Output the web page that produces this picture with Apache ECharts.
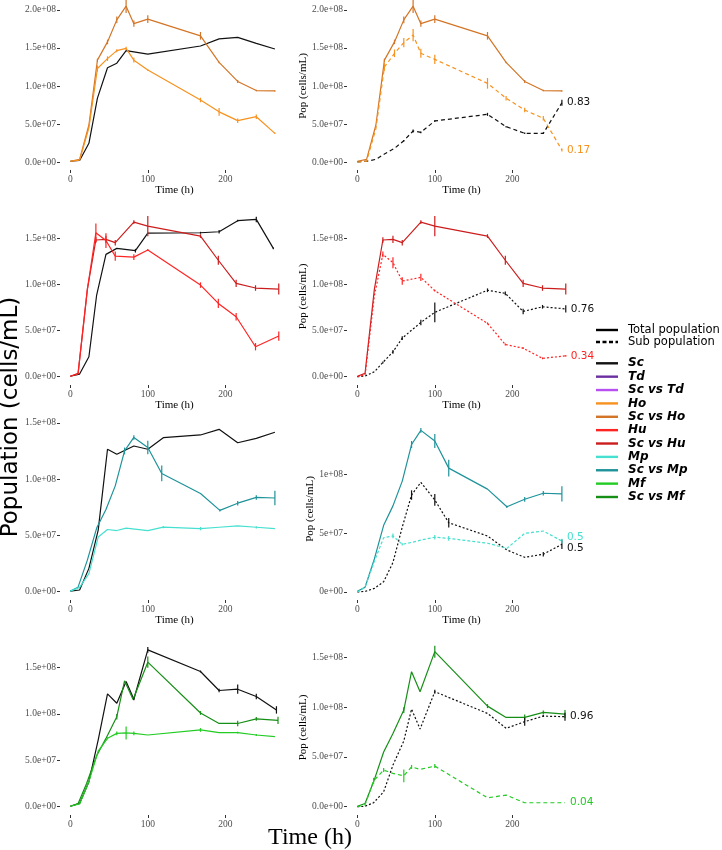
<!DOCTYPE html>
<html><head><meta charset="utf-8">
<script src="https://cdn.jsdelivr.net/npm/echarts@6/dist/echarts.min.js"></script>
<style>html,body{margin:0;padding:0;background:#fff}#c{width:722px;height:850px}</style>
</head><body><div id="c"></div><script>
// ===== DATA (population in units of 1e6 cells/mL, time in h) =====
const timeTicks = [0, 100, 200];
const popTicks = [0, 50, 100, 150, 200];
const popTickLabels = ['0.0e+00', '5.0e+07', '1.0e+08', '1.5e+08', '2.0e+08'];
const popTickLabelsShort = ['0e+00', '5e+07', '1e+08', '1.5e+08', '2e+08'];

const legendLineNames = ['Total population', 'Sub population'];
const legendNames = ['Sc', 'Td', 'Sc vs Td', 'Ho', 'Sc vs Ho', 'Hu', 'Sc vs Hu', 'Mp', 'Sc vs Mp', 'Mf', 'Sc vs Mf'];

// Row 1 : Ho
const tHo = [0, 12, 24, 35, 48, 60, 72, 82, 100, 168, 192, 216, 240, 264];
const sc1 = [1, 2, 24.6, 84, 124, 130, 146.5, 145, 142, 152.6, 162, 164, 156, 148.7];
const sc1Err = [0, 0, 0, 0, 0, 0, 0, 0, 0, 0, 0, 0, 0, 0];
const scHoTot = [1, 3.5, 48.7, 134, 158, 187, 205, 182, 188, 166, 131, 106, 94, 93.5];
const scHoTotErr = [0, 0, 0, 2, 3, 4.5, 9, 4, 5, 5, 1, 2, 1, 1];
const hoMono = [1, 2.5, 45, 123, 136, 146.5, 149.5, 134, 121, 81.6, 66, 54.4, 59.6, 37.7];
const hoMonoErr = [0, 0, 0, 4, 3, 2, 2, 3, 1, 3, 5, 3, 3, 1];
const hoSub = [0, 1, 44, 125, 143, 157, 167, 143, 135, 103.5, 84, 68.4, 57.5, 15.8];
const hoSubErr = [0, 0, 0, 5, 5, 6, 8, 6, 6, 7, 3, 3, 3, 2];
const scSubHo = [0, 1, 3.5, 10.5, 18, 28, 40.8, 39, 54, 62.7, 46.5, 37.7, 37.7, 78];
const scSubHoErr = [0, 0, 0, 0, 0, 1, 2, 1, 1, 2, 1, 1, 1, 4];
const fracHo = ['0.83', '0.17'];

// Row 2 : Hu
const tSc2 = [0, 12, 24, 34, 46, 60, 84, 100, 168, 192, 216, 240, 262];
const sc2 = [0.5, 2.9, 21.7, 88.8, 133, 139.5, 137, 156, 156.5, 157.6, 169.6, 171, 139.5];
const sc2Err = [0, 0, 0, 0, 0, 0, 2, 0, 1, 2, 1, 3, 1];
const tHu = [0, 10, 22, 33, 46, 58, 82, 100, 168, 191, 214, 239, 269];
const scHuTot = [0.5, 3.6, 95, 148.6, 149.3, 145.7, 168, 163.7, 152.9, 126.6, 101.4, 96.4, 95.3];
const scHuTotErr = [0, 0, 0, 3, 4, 3, 2, 11, 2, 5, 4, 3, 6];
const huMono = [0.5, 3, 95, 156.5, 148, 131, 130, 137.7, 99.6, 79.7, 65.2, 32.6, 44.2];
const huMonoErr = [0, 0, 0, 10, 8, 5, 3, 1, 3, 5, 4, 4, 5];
const huSub = [0, 2, 88, 133, 124, 104, 108, 93.5, 58, 35, 31, 20, 22.7];
const huSubErr = [0, 0, 0, 3, 6, 4, 4, 1, 1, 1, 1, 1, 1];
const scSubHu = [0, 0.7, 5.4, 15.5, 27, 42, 59, 70, 94, 90.6, 71, 76, 73.7];
const scSubHuErr = [0, 0, 0, 1, 2, 2, 3, 10.8, 2, 2, 3, 2, 4];
const fracHu = ['0.76', '0.34'];

// Row 3 : Mp
const tSc3 = [0, 12, 24, 36, 48, 60, 82, 100, 120, 168, 192, 216, 240, 264];
const sc3 = [0.5, 1.5, 20.7, 54.7, 126.5, 122, 129.4, 126.5, 136.8, 139.2, 144.2, 132.3, 136.2, 141.6];
const sc3Err = [0, 0, 0, 0, 0, 0, 0, 0, 0, 0, 0, 0, 0, 0];
const tMp = [0, 10, 22, 34, 46, 58, 70, 82, 100, 118, 168, 193, 216, 240, 264];
const scMpTot = [0.5, 4, 28, 56.5, 73, 94, 125, 137, 128, 105, 87.2, 72.2, 78.6, 83.7, 83.2];
const scMpTotErr = [0, 0, 0, 0, 0, 0, 3, 2, 6, 7, 0, 1, 2, 2, 6.5];
const tMpMono = [0, 12, 24, 36, 48, 60, 72, 100, 120, 168, 192, 216, 240, 264];
const mpMono = [0.5, 3.8, 16, 48.5, 55.2, 54.3, 56.4, 54.3, 57.3, 56, 57.2, 58.4, 57.2, 56];
const mpMonoErr = [0, 0, 0, 0, 0, 0, 0, 0, 1, 1.5, 0, 0, 1, 0];
const mpSub = [0, 4, 26, 46, 47.5, 40.4, 42, 44, 46.4, 45.5, 41.3, 37, 49.7, 51.7, 43.2];
const mpSubErr = [0, 0, 0, 0, 2, 1, 0, 0, 2, 2, 0, 0, 0, 0, 2];
const scSubMp = [0, 0.5, 3, 8.7, 25, 55, 82.2, 93, 78, 58.7, 47.5, 35.6, 29.4, 32, 40.4];
const scSubMpErr = [0, 0, 0, 0, 0, 0, 4, 0, 5, 4, 0, 0, 0, 2, 4];
const fracMp = ['0.5', '0.5'];

// Row 4 : Mf
const tSc4 = [0, 12, 24, 36, 48, 60, 72, 82, 100, 168, 192, 216, 240, 266];
const sc4 = [0.5, 3.6, 27, 72, 121.6, 111.5, 135, 115.8, 169, 145.7, 125.2, 126.6, 118.7, 104.3];
const sc4Err = [0, 0, 0, 0, 0, 0, 0, 1, 3, 1, 2, 5, 3, 4];
const tMf = [0, 10, 21, 34, 46, 60, 70, 81, 100, 168, 192, 216, 240, 268];
const scMfTot = [0.5, 3.3, 25, 55, 73.6, 97, 135.6, 115.5, 155.7, 101, 89.7, 89.7, 94.7, 93];
const scMfTotErr = [0, 0, 0, 0, 0, 3, 0, 0, 6, 2, 0, 3, 2, 4];
const tMfMono = [0, 12, 24, 36, 48, 60, 72, 82, 100, 168, 192, 216, 240, 264];
const mfMono = [0.5, 3, 27, 60, 73.7, 79, 79.5, 79, 77.3, 82.7, 79.8, 79.8, 77.3, 75.5];
const mfMonoErr = [0, 0, 0, 0, 1, 2, 7, 2, 0, 2, 0, 1, 1, 0];
const mfSub = [0, 2, 26, 36.8, 33.5, 31, 40, 37.5, 40.8, 9, 11.7, 4, 4, 4];
const mfSubErr = [0, 0, 3, 2, 0, 6.5, 2, 0, 2, 0, 0, 0, 0, 0];
const scSubMf = [0, 0.5, 4, 15, 41.8, 66, 98, 78, 115.5, 93.7, 78.7, 85.4, 91, 90.4];
const scSubMfErr = [0, 0, 0, 0, 0, 0, 0, 0, 2, 0, 0, 4, 1, 4];
const fracMf = ['0.96', '0.04'];

// ===== STYLE =====
const C = {
  Sc: '#111111', Td: '#6B2FA0', ScTd: '#B84FF0', Ho: '#F7921E', ScHo: '#D37526',
  Hu: '#FF2424', ScHu: '#CC1D1D', Mp: '#45E0D0', ScMp: '#1E939A', Mf: '#22CC22', ScMf: '#168F16'
};
const legendColors = [C.Sc, C.Td, C.ScTd, C.Ho, C.ScHo, C.Hu, C.ScHu, C.Mp, C.ScMp, C.Mf, C.ScMf];
const SERIF = 'Liberation Serif';
const SANS = 'DejaVu Sans';

const panels = [
  { left: 60, top: 2, h: 168, ymin: -10.5, ymax: 210.5, xname: true, yname: false },
  { left: 347, top: 2, h: 168, ymin: -10.5, ymax: 210.5, xname: true, yname: true },
  { left: 60, top: 208, h: 177, ymin: -9.0, ymax: 183.4, xname: true, yname: false },
  { left: 347, top: 208, h: 177, ymin: -9.0, ymax: 183.4, xname: true, yname: true },
  { left: 60, top: 421, h: 179, ymin: -7.4, ymax: 151.6, xname: true, yname: false },
  { left: 347, top: 418, h: 182, ymin: -6.8, ymax: 147.5, xname: true, yname: true, short: true },
  { left: 60, top: 640, h: 175, ymin: -8.9, ymax: 179.6, xname: false, yname: false },
  { left: 347, top: 640, h: 175, ymin: -8.3, ymax: 167.4, xname: false, yname: true }
];
const XMIN = -13.3, XMAX = 282.2, PW = 229;

const grids = [], xAxes = [], yAxes = [], series = [];
panels.forEach((p, i) => {
  grids.push({ left: p.left, top: p.top, width: PW, height: p.h, containLabel: false, outerBoundsMode: 'none' });
  xAxes.push({
    type: 'value', gridIndex: i, min: XMIN, max: XMAX,
    axisLine: { show: false, onZero: false }, splitLine: { show: false },
    axisTick: { show: true, customValues: timeTicks, length: 3, lineStyle: { color: '#333', width: 1 } },
    axisLabel: { customValues: timeTicks, margin: 4, color: '#4D4D4D', fontFamily: SERIF, fontSize: 9.5 },
    name: p.xname ? 'Time (h)' : '', nameLocation: 'middle', nameGap: 14,
    nameTextStyle: { fontFamily: SERIF, fontSize: 11, color: '#000' }
  });
  const yt = popTicks.filter(v => v >= p.ymin && v <= p.ymax);
  const labs = p.short ? popTickLabelsShort : popTickLabels;
  yAxes.push({
    type: 'value', gridIndex: i, min: p.ymin, max: p.ymax,
    axisLine: { show: false, onZero: false }, splitLine: { show: false },
    axisTick: { show: true, customValues: yt, length: 3, lineStyle: { color: '#333', width: 1 } },
    axisLabel: { customValues: yt, margin: 4, color: '#4D4D4D', fontFamily: SERIF, fontSize: 9.5,
      formatter: v => labs[popTicks.indexOf(v)] },
    name: p.yname ? 'Pop (cells/mL)' : '', nameLocation: 'middle', nameGap: 31, nameRotate: 90,
    nameTextStyle: { fontFamily: SERIF, fontSize: 11, color: '#000' }
  });
});

function addLine(idx, t, v, e, color, dash, label, dy) {
  const s = {
    type: 'line', xAxisIndex: idx, yAxisIndex: idx, symbol: 'none', silent: true, animation: false,
    data: t.map((x, k) => [x, v[k]]),
    lineStyle: { color: color, width: 1.2, type: dash || 'solid' }, itemStyle: { color: color }, z: 3
  };
  if (label) {
    s.endLabel = { show: true, formatter: () => label, color: color, fontFamily: SANS, fontSize: 10.5,
      distance: 5, offset: [0, dy || 0] };
  }
  series.push(s);
  const ed = [];
  t.forEach((x, k) => { if (e[k] > 0) ed.push([x, v[k], e[k]]); });
  if (ed.length) series.push({
    type: 'custom', xAxisIndex: idx, yAxisIndex: idx, silent: true, animation: false, z: 4,
    encode: { x: 0, y: 1 }, data: ed,
    renderItem: (params, api) => {
      const x = api.value(0), y = api.value(1), d = api.value(2);
      const a = api.coord([x, y - d]), b = api.coord([x, y + d]);
      return { type: 'line', shape: { x1: a[0], y1: a[1], x2: b[0], y2: b[1] },
        style: { stroke: color, lineWidth: 1.2 } };
    }
  });
}
const DASH = [4, 3], DOT = [2, 2];
// Row 1
addLine(0, tHo, sc1, sc1Err, C.Sc);
addLine(0, tHo, scHoTot, scHoTotErr, C.ScHo);
addLine(0, tHo, hoMono, hoMonoErr, C.Ho);
addLine(1, tHo, scHoTot, scHoTotErr, C.ScHo);
addLine(1, tHo, scSubHo, scSubHoErr, C.Sc, DASH, fracHo[0]);
addLine(1, tHo, hoSub, hoSubErr, C.Ho, DASH, fracHo[1]);
// Row 2
addLine(2, tSc2, sc2, sc2Err, C.Sc);
addLine(2, tHu, scHuTot, scHuTotErr, C.ScHu);
addLine(2, tHu, huMono, huMonoErr, C.Hu);
addLine(3, tHu, scHuTot, scHuTotErr, C.ScHu);
addLine(3, tHu, scSubHu, scSubHuErr, C.Sc, DOT, fracHu[0]);
addLine(3, tHu, huSub, huSubErr, C.Hu, DOT, fracHu[1]);
// Row 3
addLine(4, tSc3, sc3, sc3Err, C.Sc);
addLine(4, tMp, scMpTot, scMpTotErr, C.ScMp);
addLine(4, tMpMono, mpMono, mpMonoErr, C.Mp);
addLine(5, tMp, scMpTot, scMpTotErr, C.ScMp);
addLine(5, tMp, scSubMp, scSubMpErr, C.Sc, DOT, fracMp[0], 4);
addLine(5, tMp, mpSub, mpSubErr, C.Mp, [3, 2], fracMp[1], -4);
// Row 4
addLine(6, tSc4, sc4, sc4Err, C.Sc);
addLine(6, tMf, scMfTot, scMfTotErr, C.ScMf);
addLine(6, tMfMono, mfMono, mfMonoErr, C.Mf);
addLine(7, tMf, scMfTot, scMfTotErr, C.ScMf);
addLine(7, tMf, scSubMf, scSubMfErr, C.Sc, DOT, fracMf[0]);
addLine(7, tMf, mfSub, mfSubErr, C.Mf, DASH, fracMf[1]);

// ===== legend & big titles (graphic) =====
const graphic = [];
graphic.push({ type: 'text', x: 11, y: 417, rotation: Math.PI / 2,
  style: { text: 'Population (cells/mL)', font: '23px "DejaVu Sans"', fill: '#000', align: 'center', verticalAlign: 'middle' } });
graphic.push({ type: 'text', x: 310, y: 838,
  style: { text: 'Time (h)', font: '24px "Liberation Serif"', fill: '#000', align: 'center', verticalAlign: 'middle' } });
const LX1 = 596, LX2 = 618, TX = 628;
legendLineNames.forEach((nm, k) => {
  const y = 330 + k * 12;
  graphic.push({ type: 'line', shape: { x1: LX1, y1: y, x2: LX2, y2: y },
    style: { stroke: '#000', lineWidth: 2.4, lineDash: k ? [4, 2.5] : null } });
  graphic.push({ type: 'text', x: TX, y: y,
    style: { text: nm, font: '11.5px "DejaVu Sans"', fill: '#000', verticalAlign: 'middle' } });
});
legendNames.forEach((nm, k) => {
  const y = 363.3 + k * 13.37;
  graphic.push({ type: 'line', shape: { x1: LX1, y1: y, x2: LX2, y2: y },
    style: { stroke: legendColors[k], lineWidth: 2.4 } });
  graphic.push({ type: 'text', x: TX, y: y,
    style: { text: nm, font: 'italic bold 12px "DejaVu Sans"', fill: '#000', verticalAlign: 'middle' } });
});

const chart = echarts.init(document.getElementById('c'), null, { renderer: 'canvas' });
chart.setOption({
  animation: false, backgroundColor: '#fff',
  grid: grids, xAxis: xAxes, yAxis: yAxes, series: series, graphic: graphic
});
</script></body></html>
